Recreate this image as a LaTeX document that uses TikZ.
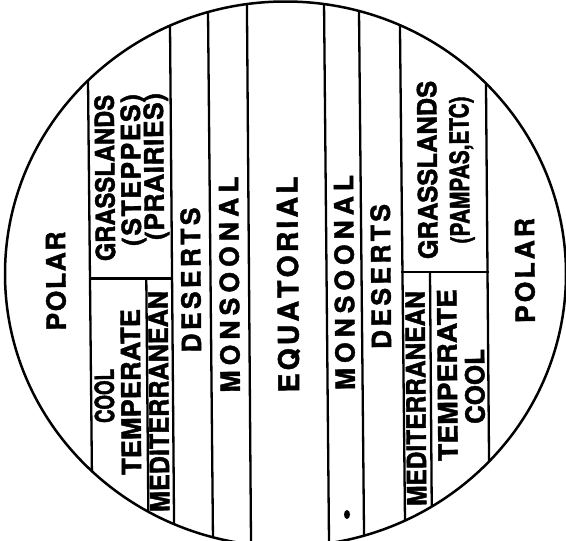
\documentclass[tikz,border=0pt]{standalone}
\usepackage{fontspec}
\setmainfont{TeX Gyre Heros}[BoldFeatures={FakeBold=1.6}]
\newcommand\stretchw[2]{{\addfontfeatures{FakeStretch=#1}#2}}
\newcommand\spreadw[2]{\makebox[#1][s]{#2}}
\begin{document}
\begin{tikzpicture}[x=1pt,y=-1pt,
  zline/.style={line width=2.3pt},
  hline/.style={line width=2.3pt, line cap=rect},
  rim/.style={line width=2.5pt},
  lbl/.style={rotate=90.5, inner sep=0pt, text height=19pt, text depth=0pt,
    font=\bfseries\fontsize{26.5}{26.5}\selectfont},
  biglbl/.style={lbl, text height=20.5pt, font=\bfseries\fontsize{28.5}{28.5}\selectfont}]
\useasboundingbox (0,0) rectangle (566,541);
\clip (0,0) rectangle (566,541);
\coordinate (c) at (285.5,274);
% band boundaries
\begin{scope}
  \clip (c) ellipse [x radius=280.5pt, y radius=272.5pt];
  \draw[zline] (87.2,0) -- (92.6,541);
  \draw[zline] (146.3,279) -- (148.6,541);
  \draw[zline] (169.8,0) -- (174.2,541);
  \draw[zline] (207.9,0) -- (213.0,541);
  \draw[zline] (246.9,0) -- (251.0,541);
  \draw[zline] (324.0,0) -- (329.0,541);
  \draw[zline] (358.9,0) -- (364.1,541);
  \draw[zline] (399.7,0) -- (405.2,541);
  \draw[zline] (430.0,272) -- (432.0,541);
  \draw[zline] (485.3,0) -- (489.7,541);
  \draw[hline] (90.0,278.5) -- (172.1,278.5);
  \draw[hline] (402.5,272) -- (487.5,272);
\end{scope}
\draw[rim] (c) ellipse [x radius=280.5pt, y radius=272.5pt];
\fill (347,514.5) ellipse [x radius=3pt, y radius=4.5pt];
% labels, left side
\node[lbl] (polarL) at (56,281) {\spreadw{99pt}{P\hfil O\hfil L\hfil A\hfil R}};
\node[lbl] (grassL) at (105,178) {\stretchw{0.895}{GRASSLANDS}};
\node[lbl] (steppes) at (131,170) {\spreadw{152pt}{(\hfil S\hfil T\hfil E\hfil P\hfil P\hfil E\hfil S\hfil)}};
\node[lbl] (prairies) at (154,166.5) {\spreadw{147pt}{(\hfil P\hfil R\hfil A\hfil I\hfil R\hfil I\hfil E\hfil S\hfil)}};
\node[lbl] (coolL) at (104.5,396) {\stretchw{0.705}{COOL}};
\node[lbl] (tempL) at (131,392) {\stretchw{1.028}{TEMPERATE}};
\node[lbl] (medL) at (159,401.5) {\stretchw{0.950}{MEDITERRANEAN}};
\node[lbl] (desL) at (191,280) {\spreadw{145pt}{D\hfil E\hfil S\hfil E\hfil R\hfil T\hfil S}};
\node[lbl] (monL) at (229.5,284.5) {\spreadw{216pt}{M\hfil O\hfil N\hfil S\hfil O\hfil O\hfil N\hfil A\hfil L}};
% centre
\node[biglbl] (equat) at (288,284.5) {\spreadw{216pt}{E\hfil Q\hfil U\hfil A\hfil T\hfil O\hfil R\hfil I\hfil A\hfil L}};
% right side
\node[lbl] (monR) at (344.5,282.5) {\spreadw{215pt}{M\hfil O\hfil N\hfil S\hfil O\hfil O\hfil N\hfil A\hfil L}};
\node[lbl] (desR) at (381,276.5) {\spreadw{145pt}{D\hfil E\hfil S\hfil E\hfil R\hfil T\hfil S}};
\node[lbl] (grassR) at (427.5,170) {\stretchw{0.960}{GRASSLANDS}};
\node[lbl] (pampas) at (459.5,170) {\stretchw{0.784}{(PAMPAS,ETC)}};
\node[lbl] (medR) at (416,398.5) {\stretchw{0.924}{MEDITERRANEAN}};
\node[lbl] (tempR) at (447.5,375) {\stretchw{1.065}{TEMPERATE}};
\node[lbl] (coolR) at (475,386.5) {\stretchw{0.979}{COOL}};
\node[lbl] (polarR) at (525,270.5) {\spreadw{105pt}{P\hfil O\hfil L\hfil A\hfil R}};
\end{tikzpicture}
\end{document}
